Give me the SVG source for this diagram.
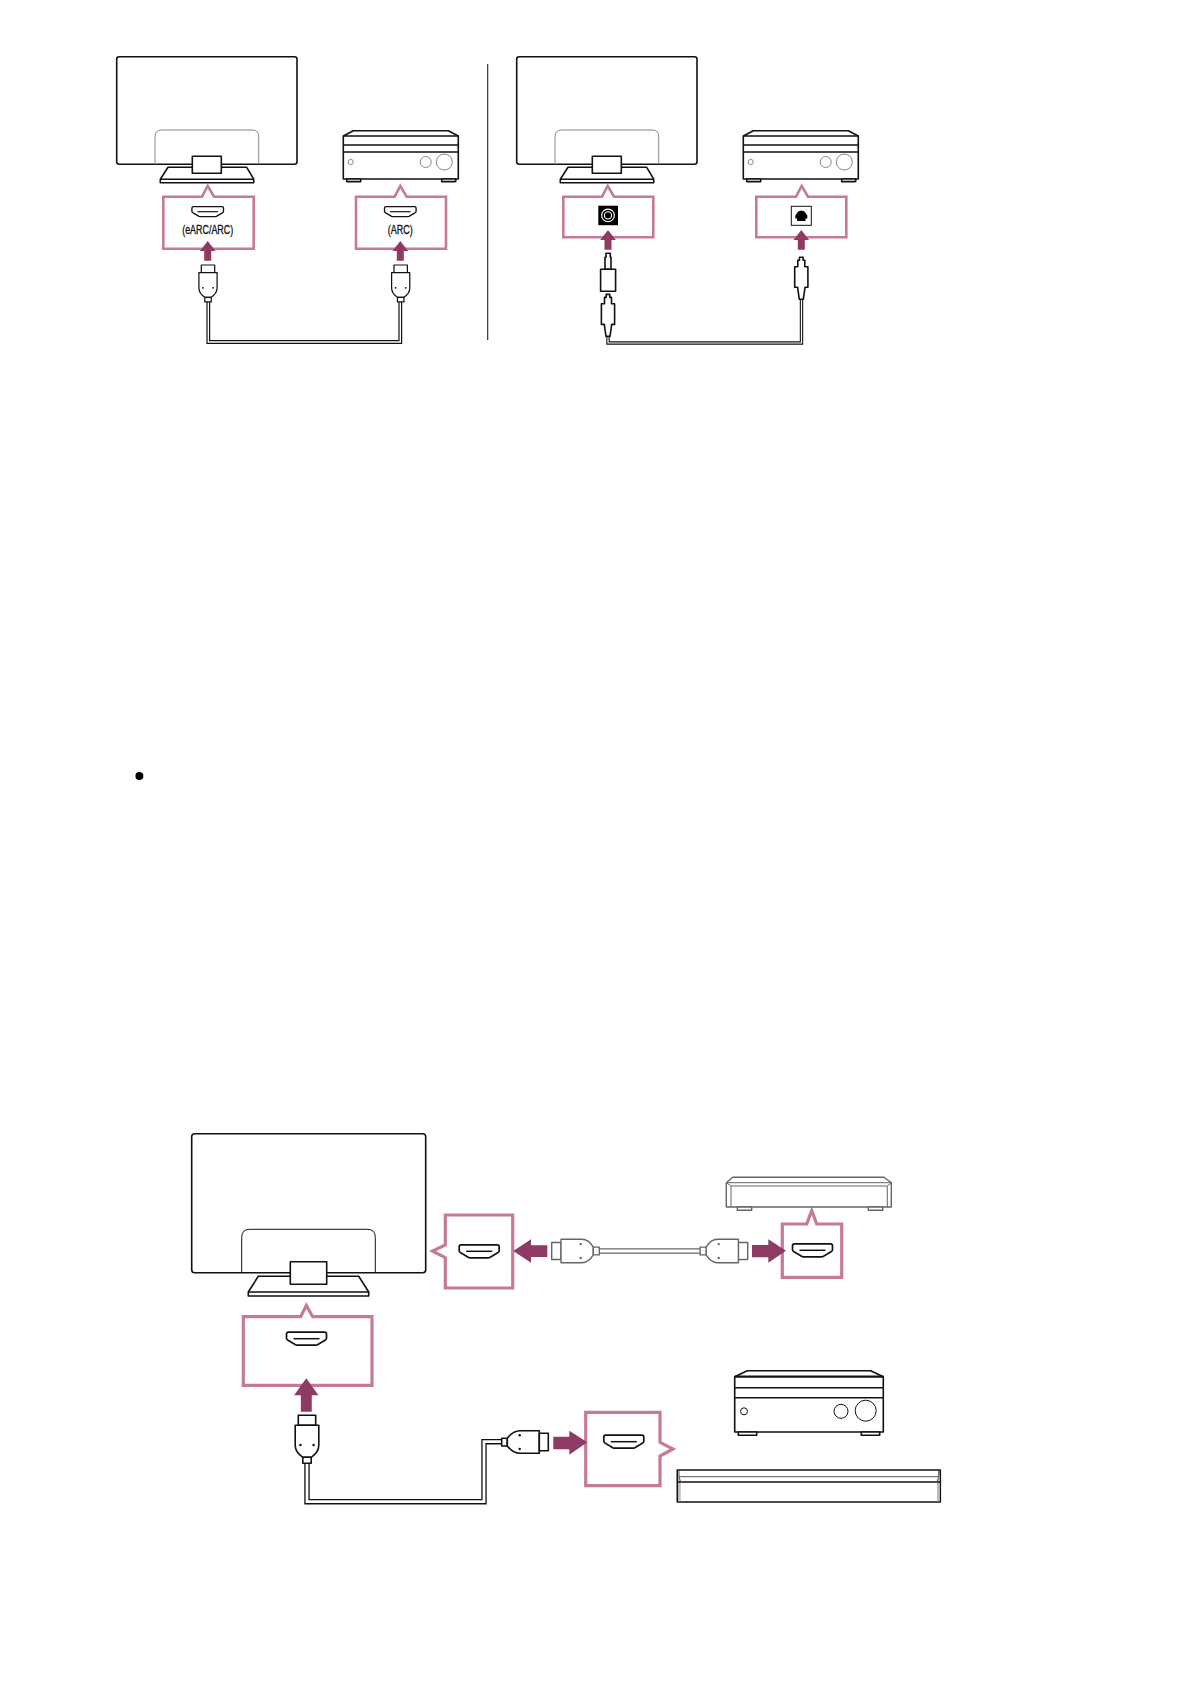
<svg xmlns="http://www.w3.org/2000/svg" width="1190" height="1684" viewBox="0 0 1190 1684">
<style>
.k{fill:none;stroke:#111;stroke-width:1.6;stroke-linejoin:round}
.w{fill:#fff;stroke:#111;stroke-width:1.6;stroke-linejoin:round}
.t{fill:none;stroke:#888;stroke-width:1}
.c{fill:#fff;stroke:#c67a98;stroke-width:2.6;stroke-miterlimit:10}
.c3{stroke-width:3.2}
.a{fill:#8e3a64}
.g{fill:#fff;stroke:#666;stroke-width:1.4;stroke-linejoin:round}
.co{fill:none;stroke-linejoin:miter}
.th{stroke-width:1}
.lbl{font-family:"Liberation Sans",Arial,sans-serif;font-size:12px;fill:#111;text-anchor:middle;stroke:#111;stroke-width:.3}
</style>
<defs>
<g id="tv-small">
<rect class="k" x="0" y="0" width="180.3" height="107.6" rx="2.5"/>
<path class="t" d="M38.3,107.6V80q0-6.7,6.7-6.7h90.3q6.7,0,6.7,6.7v27.6"/>
<path class="w" d="M43.6,126V122.5L51.3,110.6H130L137,122.5V126Z"/>
<path class="k" d="M43.6,122.5H137"/>
<rect class="w" x="75.6" y="99.6" width="29" height="17"/>
</g>
<g id="receiver-small">
<path class="w" d="M0,5.3L10,0H105L115,5.3V48.3H0Z"/>
<path class="k" d="M0,5.3H115M0,14.3H115M0,21.3H115"/>
<path class="w" d="M3.4,48.3h14v2.6h-14zM98.4,48.3h14v2.6h-14z"/>
<circle class="t" cx="7.4" cy="31.3" r="2.6"/><circle class="t" cx="82.4" cy="31.3" r="5.5"/><circle class="t" cx="101" cy="31.3" r="8"/>
</g>
<g id="hdmi">
<path d="M-18,-6.5H18Q20,-6.5 20,-4.5V-.5Q20,.8 18.5,1.5L11,6Q10,6.5 9,6.5H-9Q-10,6.5 -11,6L-18.5,1.5Q-20,.8 -20,-.5V-4.5Q-20,-6.5 -18,-6.5Z" fill="#fff" stroke="#111" stroke-width="1.7"/>
<path d="M-13,0H13" stroke="#111" stroke-width="1.5"/>
</g>
<g id="plug-v">
<rect class="w" x="-8.7" y="-10" width="17.4" height="10"/>
<path class="w" d="M-11.8,0H11.8V20Q11.8,27 4.2,32H-4.2Q-11.8,27 -11.8,20Z"/>
<rect class="w" x="-4.2" y="32" width="8.4" height="6"/>
<circle cx="-6.6" cy="19.7" r="1.2" fill="#111"/><circle cx="6.6" cy="19.7" r="1.2" fill="#111"/>
</g>
<g id="plug-h-gray">
<rect class="g" x="-16" y="-8.5" width="9.3" height="17"/>
<path class="g" d="M-6.7,-11.7H14Q21,-11.7 25.6,-3.9V3.9Q21,11.7 14,11.7H-6.7Z"/>
<rect class="g" x="25.6" y="-3.9" width="6" height="7.8"/>
<circle cx="13" cy="-6.9" r="1.2" fill="#666"/><circle cx="13" cy="7" r="1.2" fill="#666"/>
</g>
<path id="ar-up" class="a" d="M0,0L7.8,10H3.5V19.7H-3.5V10H-7.8Z"/>
<path id="optical" class="w" d="M-1.8,0H1.8V3H3.5V9.4H6.6V30H3.7L2,42H-2L-3.7,30H-6.6V9.4H-3.5V3H-1.8Z"/>
</defs>

<g id="connectors">
<g id="cable-arc"><path class="co" stroke="#111" stroke-width="3.8" d="M208.3,300V342H400.3V300"/><path class="co" stroke="#fff" stroke-width="1.4" d="M208.3,300V342H400.3V300"/></g>
<g id="cable-optical"><path class="co" stroke="#111" stroke-width="3.4" d="M608,336V343H801.5V299"/><path class="co" stroke="#fff" stroke-width="1.2" d="M608,336V343H801.5V299"/></g>
<g id="cable-source"><path class="co" stroke="#666" stroke-width="5.6" d="M599,1251H701"/><path class="co" stroke="#fff" stroke-width="3" d="M599,1251H701"/></g>
<g id="cable-tv-receiver"><path class="co" stroke="#111" stroke-width="5.4" d="M307,1462V1501.7H484V1441.7H503"/><path class="co" stroke="#fff" stroke-width="2.8" d="M307,1462V1501.7H484V1441.7H503"/></g>
</g>

<line id="divider" x1="487.7" y1="64" x2="487.7" y2="340" stroke="#222" stroke-width="1.1"/>

<g id="tv-1"><use href="#tv-small" x="116.7" y="56.7"/></g>
<g id="receiver-1"><use href="#receiver-small" x="343.3" y="130.7"/></g>
<g id="callout-earc">
<path class="c" d="M163.3,196.7H202L207.7,186L214,196.7H253.7V248.7H163.3Z"/>
<use href="#hdmi" transform="translate(207.7,211.7) scale(.79,.77)"/>
<text class="lbl" x="207.7" y="234" textLength="51" lengthAdjust="spacingAndGlyphs">(eARC/ARC)</text>
<use href="#ar-up" x="207.7" y="241"/>
<use href="#plug-v" transform="translate(208,272.7) scale(.77)"/>
</g>
<g id="callout-arc">
<path class="c" d="M356,196.7H394.7L400.3,186L406.7,196.7H446V248.7H356Z"/>
<use href="#hdmi" transform="translate(400.3,211.7) scale(.79,.77)"/>
<text class="lbl" x="400.3" y="234" textLength="25" lengthAdjust="spacingAndGlyphs">(ARC)</text>
<use href="#ar-up" x="400.3" y="241"/>
<use href="#plug-v" transform="translate(400.7,272.7) scale(.77)"/>
</g>

<g id="tv-2"><use href="#tv-small" x="516.7" y="56.7"/></g>
<g id="receiver-2"><use href="#receiver-small" x="743.3" y="130.7"/></g>
<g id="callout-coax">
<path class="c" d="M563.3,196.7H602L607.7,186L614,196.7H653.3V237.3H563.3Z"/>
<rect x="598.3" y="205.7" width="19.7" height="19.5" fill="#000"/>
<circle cx="608" cy="215.4" r="6.3" fill="none" stroke="#fff" stroke-width="1.1"/>
<circle cx="608" cy="215.4" r="3.6" fill="none" stroke="#fff" stroke-width="1.1"/>
<use href="#ar-up" x="608" y="230"/>
<path class="w" d="M606,253.3H610.3V257.3H611V269.3H605V257.3H606Z"/>
<rect class="w" x="600.6" y="269.3" width="15" height="22"/>
<use href="#optical" x="608" y="294.4"/>
</g>
<g id="callout-optical">
<path class="c" d="M756.3,196.7H796L801.7,186L808,196.7H846.3V237.3H756.3Z"/>
<rect x="791.3" y="206.3" width="20" height="19" fill="#fff" stroke="#111" stroke-width="1"/>
<path d="M797,213Q798,210.5 801.3,210.5Q804.6,210.5 805.6,213L807.3,215.5V218.5H805.5V221H797V218.5H795.3V215.5Z" fill="#000"/>
<use href="#ar-up" x="801.3" y="230"/>
<use href="#optical" x="801.3" y="257.3"/>
</g>

<g id="tv-3">
<rect class="k" x="191.7" y="1133.7" width="234" height="139" rx="3"/>
<path class="k th" d="M241.7,1272.7V1237.3q0-8,8-8h117.6q8,0,8,8v35.4"/>
<path class="w" d="M248.3,1296V1292L258.3,1276.3H358.7L368.7,1292V1296Z"/>
<path class="k" d="M248.3,1292H368.7"/>
<rect class="w" x="290.3" y="1261.7" width="36.4" height="22.6"/>
</g>

<g id="callout-tv-bottom">
<path class="c c3" d="M243.3,1316.7H300.7L306.3,1305.5L312.7,1316.7H372V1385.3H243.3Z"/>
<use href="#hdmi" x="306.5" y="1338.7"/>
<use href="#ar-up" transform="translate(306.3,1378.3) scale(1.56,1.7)"/>
<use href="#plug-v" x="307" y="1425.3"/>
</g>
<g id="callout-tv-side">
<path class="c c3" d="M445.3,1215H512.7V1288H445.3V1257.7L432.5,1251L445.3,1245Z"/>
<use href="#hdmi" x="479.2" y="1251.3"/>
<path class="a" d="M513.3,1251L531,1239.3V1245.3H547.3V1257H531V1262.7Z"/>
<use href="#plug-h-gray" x="567.7" y="1251"/>
</g>
<g id="plug-source"><use href="#plug-h-gray" transform="translate(731.7,1251) scale(-1,1)"/></g>
<g id="callout-source">
<path class="c c3" d="M782.3,1224H806.7L811.7,1210.5L816.7,1224H841.7V1277.3H782.3Z"/>
<use href="#hdmi" x="812.5" y="1250.3"/>
<path class="a" d="M786,1250.7L768.3,1239.3V1245H752V1257.3H768.3V1262.7Z"/>
</g>
<g id="player">
<path class="g" d="M726.3,1182.7L732.7,1177.3H884L891.3,1182.7V1207H726.3Z"/>
<path class="t" style="stroke:#666" d="M726.3,1182.7H891.3M731,1186H887.3M731,1186V1207M887.3,1186V1207M726.3,1182.7L731,1186M891.3,1182.7L887.3,1186"/>
<path class="g" d="M737.3,1207h14.4v3.3h-14.4zM868.3,1207h14.4v3.3h-14.4z"/>
</g>
<g id="receiver-3">
<path class="w" d="M734.7,1376.7L747.3,1370.7H870.7L883.3,1376.7V1432H734.7Z"/>
<path class="k" d="M734.7,1387.7H883.3M734.7,1397.7H883.3"/>
<path d="M734.7,1376.7H883.3" stroke="#111" stroke-width="2.2"/>
<path class="w" d="M738.3,1432h18.4v3.3h-18.4zM861.3,1432h18.4v3.3h-18.4z"/>
<circle class="k th" cx="744" cy="1411.3" r="3.5"/><circle class="k th" cx="841" cy="1411.3" r="7"/><circle class="k th" cx="865.7" cy="1410.7" r="10.5"/>
</g>
<g id="soundbar">
<rect class="w" x="677.3" y="1470" width="263" height="32"/>
<path d="M678,1476V1501.2H680.7V1482L679,1476ZM939.7,1476V1501.2H937V1482L938.7,1476Z" fill="#bbb"/>
<path class="k" d="M677.3,1482H940.3"/>
<path class="t" style="stroke:#555" d="M679,1476.7H938.7M679,1476.7V1471M938.7,1476.7V1471M679,1476.7L680.7,1482M938.7,1476.7L937,1482"/>
</g>
<g id="plug-receiver">
<path class="w" d="M501.7,1438.3H507.3V1446H501.7Z"/>
<path class="w" d="M507.3,1438.3Q513,1430.7 520,1430.7H539.3V1453.3H520Q513,1453.3 507.3,1446Z"/>
<rect class="w" x="539.3" y="1433.3" width="9" height="17.4"/>
<circle cx="519.7" cy="1435.3" r="1.2" fill="#111"/><circle cx="519.7" cy="1449" r="1.2" fill="#111"/>
</g>
<g id="callout-receiver">
<path class="c c3" d="M585.7,1412.3H660V1442.3L673,1449L660,1456V1485.7H585.7Z"/>
<use href="#hdmi" x="623.8" y="1441.7"/>
<path class="a" d="M587.3,1442.3L569.3,1430.7V1436.7H553.3V1449.3H569.3V1454.7Z"/>
</g>
<circle id="bullet" cx="139.4" cy="776" r="4" fill="#000"/>
</svg>
